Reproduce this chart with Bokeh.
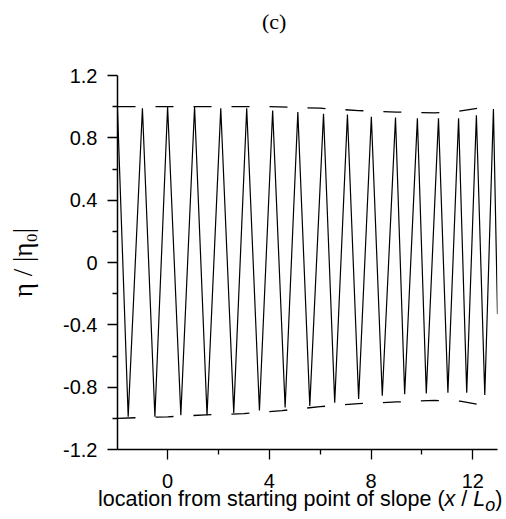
from bokeh.plotting import figure
from bokeh.models import Range1d, FixedTicker, Div
from bokeh.layouts import column
from bokeh.embed import file_html
from bokeh.resources import INLINE

# ---- data ----
# alternating crests / troughs of the free-surface profile (plus its two ends)
wave_x = [-1.97, -1.55, -0.99, -0.50, 0.00, 0.52, 1.06, 1.55, 2.09, 2.60,
          3.11, 3.61, 4.13, 4.62, 5.12, 5.59, 6.13, 6.57, 7.07, 7.51,
          8.01, 8.44, 8.96, 9.32, 9.82, 10.17, 10.65, 11.02, 11.44, 11.76,
          12.14, 12.47, 12.81, 12.97]
wave_y = [0.98, -0.99, 0.99, -0.99, 1.00, -0.98, 1.00, -0.98, 0.99, -0.965,
          0.99, -0.95, 0.975, -0.93, 0.965, -0.92, 0.955, -0.90, 0.95, -0.875,
          0.935, -0.855, 0.93, -0.845, 0.925, -0.84, 0.925, -0.835, 0.925, -0.835,
          0.945, -0.85, 0.985, -0.33]

# dashed envelopes
env_top_x = [-1.97, 4.0, 6.0, 7.5, 9.0, 10.5, 11.4, 12.2]
env_top_y = [1.0, 1.0, 0.99, 0.975, 0.965, 0.96, 0.97, 0.99]
env_bot_x = [-1.97, 0.0, 1.5, 3.0, 4.5, 6.0, 7.5, 9.0, 10.5, 11.5, 12.2]
env_bot_y = [-1.0, -0.99, -0.978, -0.97, -0.95, -0.925, -0.905, -0.895, -0.885, -0.89, -0.91]

x_ticks = [0, 4, 8, 12]
x_tick_labels = ["0", "4", "8", "12"]
x_minor = [2, 6, 10]
y_ticks = [-1.2, -0.8, -0.4, 0, 0.4, 0.8, 1.2]
y_tick_labels = ["-1.2", "-0.8", "-0.4", "0", "0.4", "0.8", "1.2"]
y_minor = [-1.0, -0.6, -0.2, 0.2, 0.6, 1.0]

title_text = "(c)"
xlabel_html = "location from starting point of slope (<i>x</i>&nbsp;/&nbsp;<i>L</i><sub><i>o</i></sub>)"
ylabel_text = "η / |η₀|"

# ---- figure ----
X0, X1 = -1.97, 12.97
Y0, Y1 = -1.2, 1.2
TITLE_H = 40
W = 500
BL, BR, BT, BB = 117, 3, 35, 41
FH = 374
H = BT + FH + BB
XLAB_H = 519 - TITLE_H - H

title_div = Div(text=f'<div style="position:relative; top:11px; padding-left:262px; '
                     f'font-family:\'Liberation Serif\'; font-size:22px; line-height:22px; '
                     f'color:black; white-space:nowrap;">{title_text}</div>',
                width=W, height=TITLE_H, margin=(0, 0, 0, 0))

p = figure(width=W, height=H, x_range=Range1d(X0, X1), y_range=Range1d(Y0, Y1),
           output_backend="svg", toolbar_location=None,
           min_border_left=BL, min_border_right=BR, min_border_top=BT, min_border_bottom=BB)
p.outline_line_color = None
p.grid.visible = False
p.background_fill_color = "white"
p.border_fill_color = "white"

p.line(env_top_x, env_top_y, line_color="black", line_width=1.3, line_dash="18 20")
p.line(env_bot_x, env_bot_y, line_color="black", line_width=1.3, line_dash="18 20")
p.line(wave_x, wave_y, line_color="black", line_width=1.2)

for ax in (p.xaxis[0], p.yaxis[0]):
    ax.axis_line_width = 1.5
    ax.axis_line_color = "black"
    ax.major_tick_line_color = "black"
    ax.minor_tick_line_color = "black"
    ax.major_tick_line_width = 1.3
    ax.minor_tick_line_width = 1.3
    ax.major_tick_in = 0
    ax.minor_tick_in = 0
    ax.major_tick_out = 10
    ax.minor_tick_out = 5
    ax.major_label_text_font = "Liberation Sans"
    ax.major_label_text_font_size = "20px"
    ax.major_label_text_color = "black"

p.xaxis.ticker = FixedTicker(ticks=x_ticks, minor_ticks=x_minor)
p.xaxis.major_label_overrides = {t: l for t, l in zip(x_ticks, x_tick_labels)}
p.xaxis.major_label_standoff = 14
p.yaxis.ticker = FixedTicker(ticks=y_ticks, minor_ticks=y_minor)
p.yaxis.major_label_overrides = {t: l for t, l in zip(y_ticks, y_tick_labels)}
p.yaxis.major_label_standoff = 10

p.yaxis.axis_label = ylabel_text
p.yaxis.axis_label_text_font = "Liberation Serif"
p.yaxis.axis_label_text_font_size = "27px"
p.yaxis.axis_label_text_font_style = "normal"
p.yaxis.axis_label_text_color = "black"
p.yaxis.axis_label_standoff = 22

xlabel = Div(text=f'<div style="position:relative; top:-1px; padding-left:98px; '
                  f'font-family:\'Liberation Sans\'; font-size:21.5px; line-height:21px; '
                  f'color:black; white-space:nowrap;">{xlabel_html}</div>',
             width=W, height=XLAB_H, margin=(0, 0, 0, 0))

layout = column(title_div, p, xlabel, spacing=0)
open("out.html", "w").write(file_html(layout, INLINE))
